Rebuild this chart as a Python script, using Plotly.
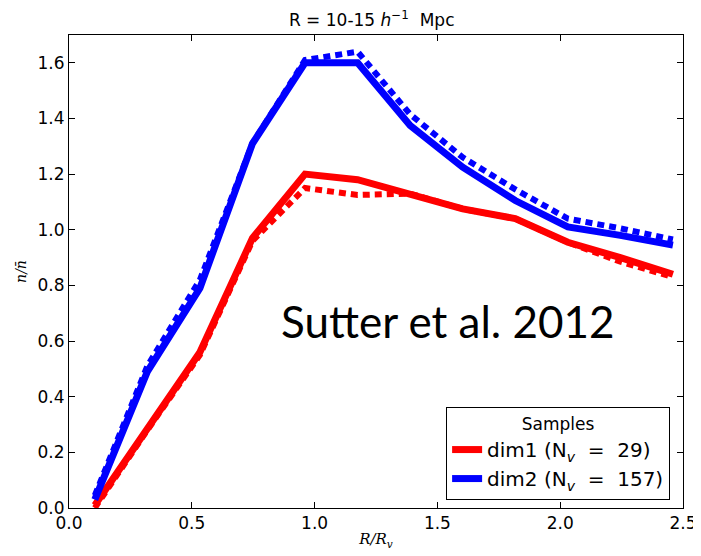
import plotly.graph_objects as go

# radial bins R/R_v
r_bins = [0.105, 0.319, 0.533, 0.747, 0.961, 1.175, 1.389, 1.603, 1.817, 2.031, 2.245, 2.459]

dim1_solid = [0.01, 0.29, 0.56, 0.97, 1.20, 1.18, 1.13, 1.075, 1.04, 0.955, 0.90, 0.84]
dim1_dash = [0.00, 0.28, 0.55, 0.96, 1.15, 1.125, 1.13, 1.075, 1.04, 0.955, 0.885, 0.83]
dim2_solid = [0.03, 0.49, 0.79, 1.31, 1.60, 1.60, 1.375, 1.225, 1.105, 1.01, 0.98, 0.945]
dim2_dash = [0.045, 0.51, 0.82, 1.31, 1.61, 1.64, 1.415, 1.26, 1.145, 1.04, 1.005, 0.965]

names = ["dim1 (N<sub><i>v</i></sub>&nbsp; =&nbsp; 29)", "dim2 (N<sub><i>v</i></sub>&nbsp; =&nbsp; 157)"]
colors = ["#ff0000", "#0000ff"]

x_ticks = [0.0, 0.5, 1.0, 1.5, 2.0, 2.5]
y_ticks = [0.0, 0.2, 0.4, 0.6, 0.8, 1.0, 1.2, 1.4, 1.6]

fig = go.Figure()
for solid, dash, name, col in [(dim1_solid, dim1_dash, names[0], colors[0]),
                               (dim2_solid, dim2_dash, names[1], colors[1])]:
    fig.add_trace(go.Scatter(x=r_bins, y=dash, mode="lines", showlegend=False,
                             line=dict(color=col, width=6, dash="7px,5px")))
    fig.add_trace(go.Scatter(x=r_bins, y=solid, mode="lines", name=name,
                             line=dict(color=col, width=7)))

axis_common = dict(showline=True, linecolor="black", linewidth=1, mirror="ticks",
                   ticks="inside", ticklen=6, tickcolor="black", showgrid=False,
                   zeroline=False, automargin=False,
                   tickfont=dict(family="DejaVu Sans", size=17, color="black"))

fig.update_layout(
    width=701, height=556,
    margin=dict(l=61, r=26, t=27, b=56),
    paper_bgcolor="white", plot_bgcolor="white",
    title=dict(text="R = 10-15 <i>h</i><sup>−1</sup>  Mpc", xref="paper", x=0.493,
               xanchor="center", yref="container", y=0.978, yanchor="middle",
               font=dict(family="DejaVu Sans", size=17, color="black")),
    xaxis=dict(range=[0, 2.5], tickvals=x_ticks, ticktext=[f"{v:.1f}" for v in x_ticks],
               title=dict(text="<i>R/R<sub>v</sub></i>", standoff=1,
                          font=dict(family="DejaVu Serif", size=15, color="black")),
               **axis_common),
    yaxis=dict(range=[0, 1.7], tickvals=y_ticks, ticktext=[f"{v:.1f}" for v in y_ticks],
               title=dict(text="<i>n/n̄</i>", standoff=7,
                          font=dict(family="DejaVu Serif", size=14, color="black")),
               **axis_common),
    legend=dict(x=0.979, y=0.017, xanchor="right", yanchor="bottom",
                bordercolor="black", borderwidth=1, bgcolor="white",
                font=dict(family="DejaVu Sans", size=20, color="black"),
                title=dict(text="Samples", side="top center",
                           font=dict(family="DejaVu Sans", size=17, color="black"))),
    annotations=[dict(text="Sutter et al. 2012", xref="paper", yref="paper",
                      x=0.618, y=0.396, xanchor="center", yanchor="middle", showarrow=False,
                      font=dict(family="Lato", size=44, color="black"))],
)

fig.write_html("out.html")
